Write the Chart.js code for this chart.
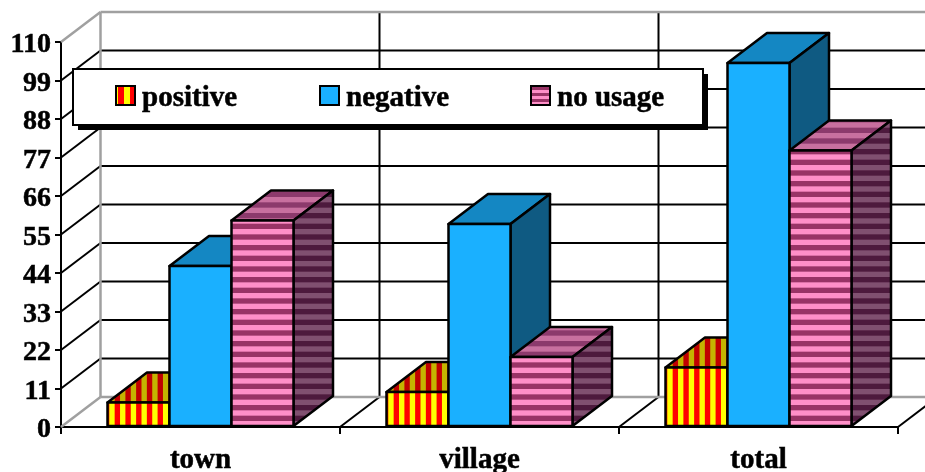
<!DOCTYPE html>
<html>
<head>
<meta charset="utf-8">
<title>Usage by place</title>
<script src="https://cdn.jsdelivr.net/npm/chart.js@4"></script>
<style>
  html, body { margin: 0; background: #fff; }
  canvas { display: block; }
</style>
</head>
<body>
<canvas id="usageChart" width="925" height="472"></canvas>
<script>
const categories = ['town', 'village', 'total'];
const positive = [7, 10, 17];
const negative = [46, 58, 104];
const noUsage = [59, 20, 79];
const yStep = 11;
const yMax = 110;

const depthX = 39.5;
const depthY = 30;
const serif = '"Liberation Serif", "Times New Roman", serif';
const tileCtx = document.createElement('canvas').getContext('2d');

// Striped fills. 26 and 30 repeats fit the tiles so each bar starts on the same phase
function vStripes(a, b) {
    const tile = document.createElement('canvas');
    tile.width = 279; tile.height = 1;
    const c = tile.getContext('2d');
    const p = 279 / 26;
    c.fillStyle = b; c.fillRect(0, 0, 279, 1);
    c.fillStyle = a;
    for (let i = -1; i < 27; i++) c.fillRect((109.3 % p) + i * p, 0, p / 2, 1);
    return tileCtx.createPattern(tile, 'repeat');
}

function hStripes(a, b) {
    const tile = document.createElement('canvas');
    tile.width = 1; tile.height = 320;
    const c = tile.getContext('2d');
    const p = 320 / 30;
    c.fillStyle = b; c.fillRect(0, 0, 1, 320);
    c.fillStyle = a;
    for (let i = -1; i < 31; i++) c.fillRect(0, (421 % p) + i * p, 1, p / 2);
    return tileCtx.createPattern(tile, 'repeat');
}

const faces = [
    { front: vStripes('#ffff00', '#ff0000'), top: vStripes('#c4b400', '#c00000'), side: vStripes('#999900', '#990000') },
    { front: '#1ab0ff', top: '#1487c3', side: '#0f5a82' },
    { front: hStripes('#ff8fc8', '#993366'), top: hStripes('#c8709f', '#8c3a6c'), side: hStripes('#805070', '#4d1a3d') }
];

function line(ctx, x1, y1, x2, y2, color) {
    ctx.strokeStyle = color;
    ctx.beginPath();
    ctx.moveTo(x1, y1);
    ctx.lineTo(x2, y2);
    ctx.stroke();
}

function poly(ctx, pts, fill) {
    ctx.beginPath();
    pts.forEach((p, i) => i ? ctx.lineTo(p[0], p[1]) : ctx.moveTo(p[0], p[1]));
    ctx.closePath();
    ctx.fillStyle = fill;
    ctx.fill();
    ctx.stroke();
}

// Back wall, side wall and floor of the box
const wallsPlugin = {
    id: 'walls',
    beforeDatasetsDraw(chart) {
        const { ctx, scales: { x, y } } = chart;
        ctx.save();
        ctx.lineWidth = 2;
        const backLeft = x.left + depthX;
        const backRight = x.right + depthX;
        const backY = v => y.getPixelForValue(v) - depthY;

        for (let v = yStep; v < yMax; v += yStep) {
            line(ctx, x.left, y.getPixelForValue(v), backLeft, backY(v), '#000');
            line(ctx, backLeft, backY(v), backRight, backY(v), '#000');
        }
        for (let i = 1; i <= categories.length; i++) {
            const bx = x.left + i * x.width / categories.length;
            line(ctx, bx, y.bottom, bx + depthX, y.bottom - depthY, '#000');
            if (i < categories.length) line(ctx, bx + depthX, backY(yMax), bx + depthX, backY(0), '#000');
        }

        ctx.lineWidth = 2.5;
        line(ctx, x.left, y.top, backLeft, backY(yMax), '#a0a0a0');
        line(ctx, backLeft, backY(yMax), backRight, backY(yMax), '#a0a0a0');
        line(ctx, backLeft, backY(yMax), backLeft, backY(0), '#a0a0a0');
        line(ctx, x.left, y.bottom, backLeft, backY(0), '#a0a0a0');
        line(ctx, backLeft, backY(0), backRight, backY(0), '#a0a0a0');
        ctx.restore();
    }
};

// Series have to paint left to right so each bar hides the side face of the one before,
// so the normal pass is skipped and the bar elements are drawn here after their top and side
const boxPlugin = {
    id: 'boxes',
    beforeDatasetDraw() {
        return false;
    },
    afterDatasetsDraw(chart) {
        const { ctx } = chart;
        ctx.save();
        ctx.lineWidth = 2.5;
        ctx.strokeStyle = '#000';
        ctx.lineJoin = 'round';
        chart.data.datasets.forEach((ds, i) => {
            const look = faces[i];
            chart.getDatasetMeta(i).data.forEach(bar => {
                const l = bar.x - bar.width / 2;
                const r = bar.x + bar.width / 2;
                poly(ctx, [[l, bar.y], [l + depthX, bar.y - depthY], [r + depthX, bar.y - depthY], [r, bar.y]], look.top);
                poly(ctx, [[r, bar.y], [r + depthX, bar.y - depthY], [r + depthX, bar.base - depthY], [r, bar.base]], look.side);
                bar.draw(ctx);
                ctx.strokeRect(l, bar.y, bar.width, bar.base - bar.y);
            });
        });
        ctx.restore();
    }
};

// Boxed legend with a hard shadow, sits on top of the grid
const legendPlugin = {
    id: 'boxLegend',
    afterDraw(chart) {
        const { ctx } = chart;
        const swatchX = [116, 320, 531];
        ctx.save();
        ctx.fillStyle = '#000';
        ctx.fillRect(78, 74, 630, 56);
        ctx.fillStyle = '#fff';
        ctx.strokeStyle = '#000';
        ctx.lineWidth = 2;
        ctx.fillRect(73, 69, 630, 56);
        ctx.strokeRect(73, 69, 630, 56);
        ctx.font = 'bold 29px ' + serif;
        ctx.textBaseline = 'alphabetic';
        chart.data.datasets.forEach((ds, i) => {
            ctx.fillStyle = legendSwatch[i];
            ctx.fillRect(swatchX[i], 86, 19, 19);
            ctx.strokeRect(swatchX[i], 86, 19, 19);
            ctx.fillStyle = '#000';
            ctx.lineWidth = 0.5;
            ctx.fillText(ds.label, swatchX[i] + 26, 106);
            ctx.strokeText(ds.label, swatchX[i] + 26, 106);
            ctx.lineWidth = 2;
        });
        ctx.restore();
    }
};

const legendSwatch = [
    (() => {
        const t = document.createElement('canvas');
        t.width = 12; t.height = 1;
        const c = t.getContext('2d');
        c.fillStyle = '#ff0000'; c.fillRect(0, 0, 12, 1);
        c.fillStyle = '#ffff00'; c.fillRect(4, 0, 6, 1);
        return tileCtx.createPattern(t, 'repeat');
    })(),
    '#1ab0ff',
    (() => {
        const t = document.createElement('canvas');
        t.width = 1; t.height = 6;
        const c = t.getContext('2d');
        c.fillStyle = '#993366'; c.fillRect(0, 0, 1, 6);
        c.fillStyle = '#ff8fc8'; c.fillRect(0, 0, 1, 3);
        return tileCtx.createPattern(t, 'repeat');
    })()
];

new Chart(document.getElementById('usageChart').getContext('2d'), {
    type: 'bar',
    data: {
        labels: categories,
        datasets: [
            { label: 'positive', data: positive, backgroundColor: faces[0].front },
            { label: 'negative', data: negative, backgroundColor: faces[1].front },
            { label: 'no usage', data: noUsage, backgroundColor: faces[2].front }
        ]
    },
    options: {
        responsive: false,
        animation: false,
        layout: { padding: { top: 42, right: 27, left: 0, bottom: 0 } },
        categoryPercentage: 2 / 3,
        barPercentage: 1,
        plugins: {
            legend: { display: false },
            tooltip: { enabled: false }
        },
        scales: {
            x: {
                afterFit(scale) { scale.height = 45; },
                grid: { drawOnChartArea: false, color: '#000', lineWidth: 2, tickLength: 7 },
                border: { color: '#000', width: 2 },
                ticks: {
                    color: '#000', font: { family: serif, size: 29, weight: 'bold' }, padding: 9, maxRotation: 0,
                    textStrokeColor: '#000', textStrokeWidth: 0.5
                }
            },
            y: {
                min: 0,
                max: yMax,
                afterFit(scale) { scale.width = 61; },
                grid: { drawOnChartArea: false, color: '#000', lineWidth: 2, tickLength: 6 },
                border: { color: '#000', width: 2 },
                ticks: {
                    color: '#000', font: { family: serif, size: 28, weight: 'bold' }, padding: 4, stepSize: yStep, autoSkip: false,
                    labelOffset: 3, textStrokeColor: '#000', textStrokeWidth: 0.5
                }
            }
        }
    },
    plugins: [wallsPlugin, boxPlugin, legendPlugin]
});
</script>
</body>
</html>
